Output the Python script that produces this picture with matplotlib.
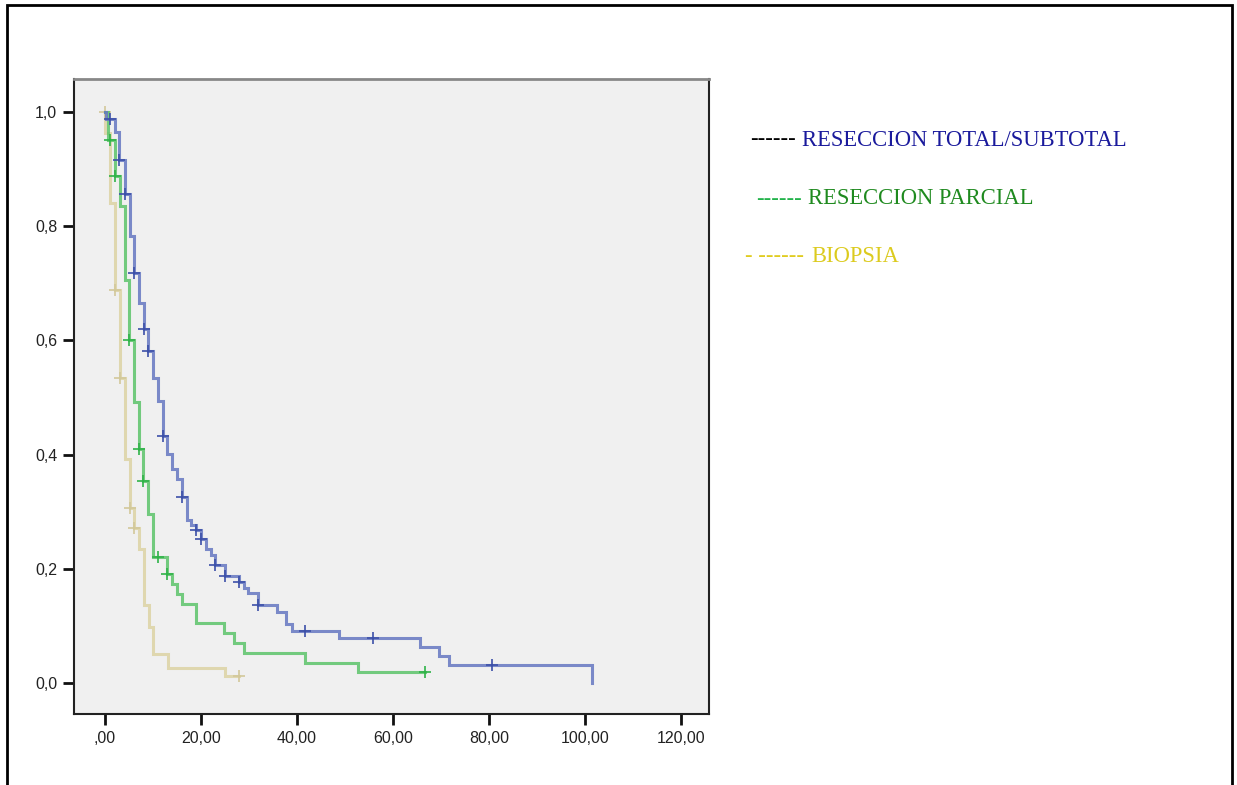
import matplotlib.pyplot as plt
import numpy as np

# survival steps (time, survival after the drop)
total_t = [0, 0.2, 2.1, 2.9, 4.2, 5.2, 6.0, 7.1, 8.1, 9.0, 10.0, 11.0, 12.1, 12.9, 14.0, 15.0, 16.0,
           17.1, 17.9, 19.0, 20.0, 21.0, 22.1, 22.9, 25.0, 27.9, 29.0, 29.8, 31.9, 35.8, 37.7, 39.0,
           48.75, 65.6, 69.6, 71.7, 101.5]
total_s = [1.0, 0.988, 0.965, 0.916, 0.856, 0.783, 0.718, 0.666, 0.620, 0.581, 0.534, 0.494, 0.433,
           0.401, 0.375, 0.357, 0.326, 0.285, 0.277, 0.268, 0.252, 0.235, 0.224, 0.207, 0.187, 0.177,
           0.166, 0.158, 0.137, 0.124, 0.103, 0.091, 0.079, 0.063, 0.047, 0.032, 0.0]
total_cens = [1.0, 2.9, 4.2, 6.0, 8.1, 9.0, 12.1, 16.0, 19.0, 20.0, 22.9, 25.0, 27.9, 31.9,
              41.7, 55.8, 80.6]
total_end = 101.5

parcial_t = [0, 0.6, 2.0, 3.1, 4.1, 5.0, 6.0, 7.1, 8.0, 9.0, 10.0, 12.9, 14.0, 15.0, 16.0, 19.0,
             24.8, 26.9, 29.0, 41.7, 52.7]
parcial_s = [1.0, 0.951, 0.888, 0.835, 0.706, 0.601, 0.492, 0.410, 0.354, 0.296, 0.221, 0.191,
             0.173, 0.156, 0.138, 0.105, 0.088, 0.070, 0.053, 0.035, 0.019]
parcial_cens = [1.0, 2.0, 5.0, 7.1, 8.0, 11.0, 12.9, 66.7]
parcial_end = 66.7

biopsia_t = [0, 0.1, 1.0, 2.0, 3.1, 4.2, 5.2, 6.0, 7.1, 8.1, 9.2, 10.0, 13.1, 25.0]
biopsia_s = [1.0, 0.963, 0.84, 0.688, 0.534, 0.392, 0.306, 0.271, 0.235, 0.137, 0.098, 0.051,
             0.026, 0.012]
biopsia_cens = [0.0, 2.0, 3.1, 5.2, 6.0, 27.9]
biopsia_end = 27.9

xticks = [0, 20, 40, 60, 80, 100, 120]
xlabels = [',00', '20,00', '40,00', '60,00', '80,00', '100,00', '120,00']
yticks = [0, 0.2, 0.4, 0.6, 0.8, 1.0]
ylabels = ['0,0', '0,2', '0,4', '0,6', '0,8', '1,0']

W, H = 1237, 785
fig = plt.figure(figsize=(W / 100, H / 100), dpi=100)
fig.patch.set_facecolor('white')

ax = fig.add_axes([74 / W, 1 - 714 / H, (709 - 74) / W, (714 - 79) / H])
ax.set_facecolor('#f0f0f0')


def km(t, s, cens, end, col, ccol):
    x = list(t) + [end]
    y = list(s) + [s[-1]]
    ax.step(x, y, where='post', color=col, lw=2.2, alpha=0.85, solid_joinstyle='miter')
    idx = np.searchsorted(t, cens, side='right') - 1
    ax.plot(cens, np.array(s)[idx], ls='none', marker='+', ms=9, mew=1.2, color=ccol)


km(biopsia_t, biopsia_s, biopsia_cens, biopsia_end, '#dcd3a4', '#d2c89a')
km(parcial_t, parcial_s, parcial_cens, parcial_end, '#5cc46a', '#2fb348')
km(total_t, total_s, total_cens, total_end, '#6677c2', '#3c50a8')

ax.set_xlim(-6.46, 125.8)
ax.set_ylim(-0.0543, 1.0578)
ax.set_xticks(xticks)
ax.set_xticklabels(xlabels)
ax.set_yticks(yticks)
ax.set_yticklabels(ylabels)
ax.tick_params(direction='out', length=8, width=2, color='#111111', labelsize=11.5,
               labelcolor='#222222', pad=4)
for lab in ax.get_xticklabels() + ax.get_yticklabels():
    lab.set_family('Liberation Sans')
for side in ['left', 'bottom', 'right']:
    ax.spines[side].set_color('#222222')
    ax.spines[side].set_linewidth(1.5)
ax.spines['top'].set_color('#888888')
ax.spines['top'].set_linewidth(2)

# legend typed as text
serif = 'Liberation Serif'
fs = 16.3
fig.text(750 / W, 1 - 140 / H, '------', color='black', fontsize=fs, family=serif, va='center')
fig.text(802 / W, 1 - 140 / H, 'RESECCION TOTAL/SUBTOTAL', color='#1a1a9c', fontsize=fs,
         family=serif, va='center')
fig.text(756 / W, 1 - 199 / H, '------', color='#22b34a', fontsize=fs, family=serif, va='center')
fig.text(808 / W, 1 - 199 / H, 'RESECCION PARCIAL', color='#1f8a1f', fontsize=fs,
         family=serif, va='center')
fig.text(745 / W, 1 - 257 / H, '- ------', color='#e0cc20', fontsize=fs, family=serif, va='center')
fig.text(811 / W, 1 - 257 / H, 'BIOPSIA', color='#dccb1e', fontsize=fs, family=serif, va='center')

# outer frame
fig.add_artist(plt.Rectangle((7 / W, -0.01), (1232 - 7) / W, 1 - 5 / H + 0.01,
                             transform=fig.transFigure, fill=False, lw=2, ec='black'))

fig.savefig('out.png', dpi=100)
